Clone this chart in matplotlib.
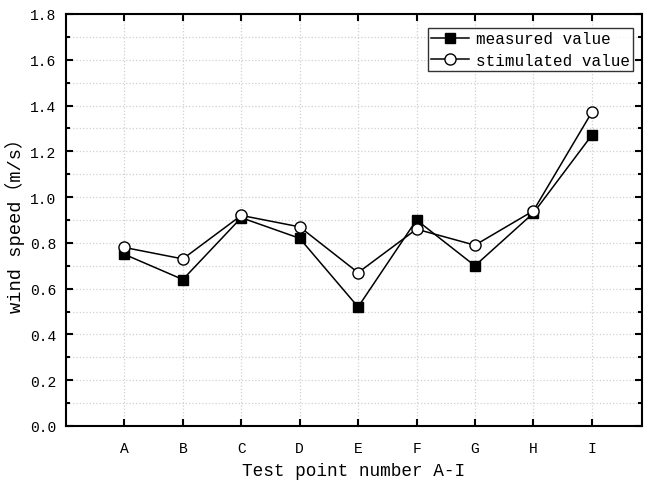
import numpy as np
import matplotlib
matplotlib.use("Agg")
from matplotlib import pyplot as plt
from matplotlib.ticker import MultipleLocator

points = ["A", "B", "C", "D", "E", "F", "G", "H", "I"]
measured = [0.75, 0.64, 0.91, 0.82, 0.52, 0.90, 0.70, 0.93, 1.27]
simulated = [0.78, 0.73, 0.92, 0.87, 0.67, 0.86, 0.79, 0.94, 1.37]

plt.rcParams['font.family'] = ['Liberation Mono', 'Noto Sans CJK SC']
plt.rcParams['font.size'] = 10


def main():
    fig = plt.figure(figsize=(6.47, 4.85), dpi=100)
    ax = fig.add_axes([66 / 647, 1 - 427 / 485, 576 / 647, 412 / 485])
    x = np.arange(1, len(points) + 1)

    ax.plot(x, measured, color='black', lw=1.1, marker='s', ms=7,
            mfc='black', mec='black', label='measured value', zorder=3)
    ax.plot(x, simulated, color='black', lw=1.1, marker='o', ms=8,
            mfc='white', mec='black', label='stimulated value', zorder=4)

    ax.set_xlim(0, 9.86)
    ax.set_ylim(0, 1.8)
    ax.set_xticks(x)
    ax.set_xticklabels(points)
    ax.yaxis.set_major_locator(MultipleLocator(0.2))
    ax.yaxis.set_minor_locator(MultipleLocator(0.1))
    ax.set_yticklabels([f"{v:.1f}" for v in ax.get_yticks()])

    ax.grid(True, which='both', axis='y', color='#d0d0d0', ls=':', lw=0.9)
    ax.grid(True, which='major', axis='x', color='#d0d0d0', ls=':', lw=0.9)
    ax.set_axisbelow(True)

    ax.tick_params(which='both', direction='in', top=True, right=True,
                   width=1.5, labelsize=10.5)
    ax.tick_params(which='major', length=5, pad=7)
    ax.tick_params(which='minor', length=3)
    ax.tick_params(axis='x', pad=11)
    for s in ax.spines.values():
        s.set_linewidth(1.5)

    ax.set_xlabel('Test point number A-I', fontsize=12.8, labelpad=5)
    ax.set_ylabel('wind speed（m/s）', fontsize=13.5)
    ax.yaxis.set_label_coords(-0.072, 0.5)

    leg = ax.legend(loc='upper right', bbox_to_anchor=(633 / 647, 1 - 29 / 485),
                    bbox_transform=fig.transFigure,
                    fontsize=11.5, frameon=True, fancybox=False,
                    edgecolor='black', borderpad=0.2, handlelength=2.4,
                    handletextpad=0.4, borderaxespad=0.0, labelspacing=0.4)
    leg.get_frame().set_linewidth(1.0)

    fig.savefig('out.png', dpi=100)


if __name__ == '__main__':
    main()
